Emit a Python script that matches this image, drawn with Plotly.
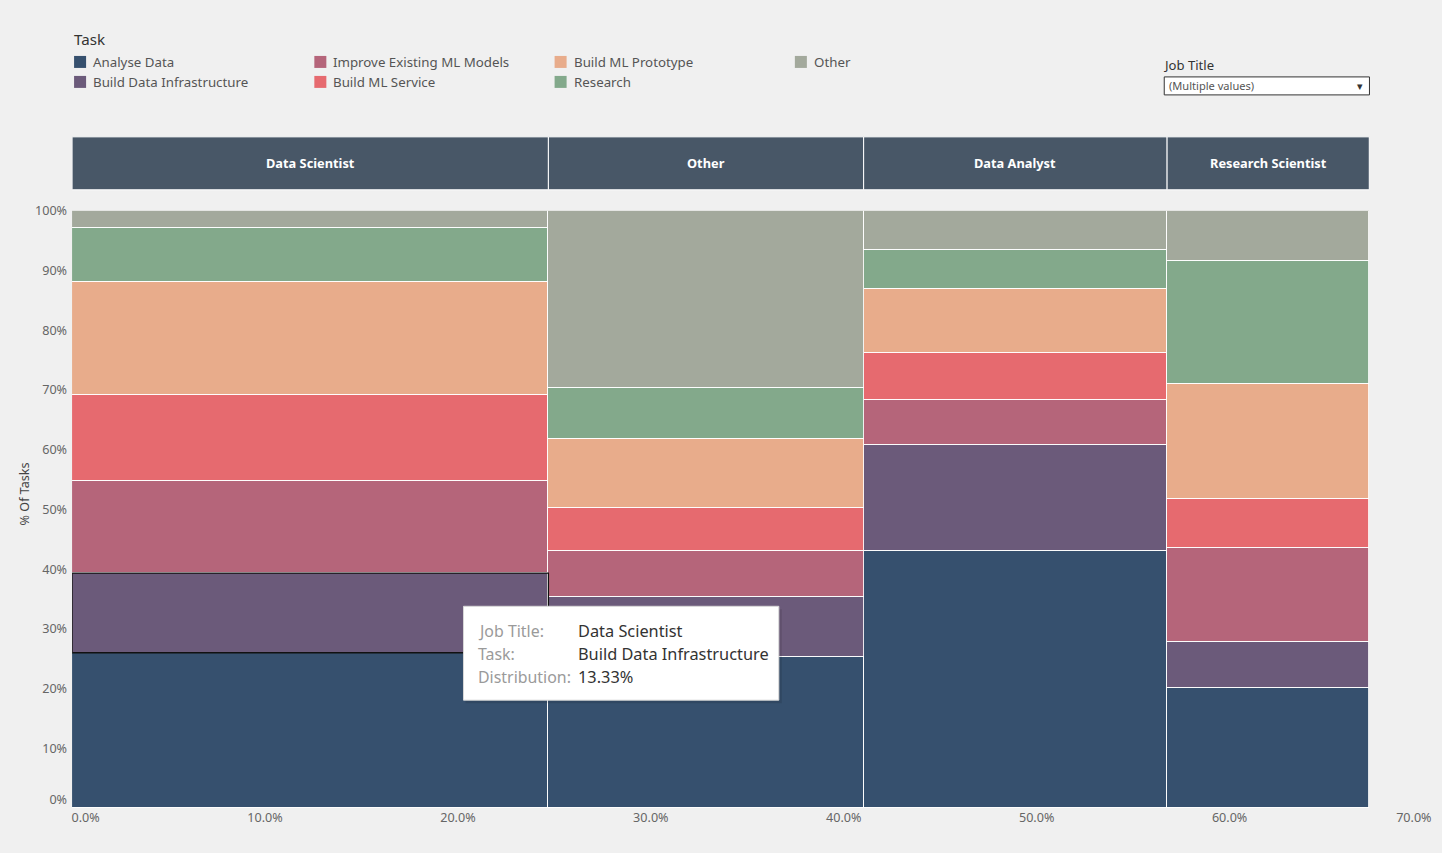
import plotly.graph_objects as go
import numpy as np

# ---------------- data ----------------
job_titles = ["Data Scientist", "Other", "Data Analyst", "Research Scientist"]
job_widths = [24.69, 16.34, 15.73, 10.48]   # % share on x axis

tasks = ["Analyse Data", "Build Data Infrastructure", "Improve Existing ML Models",
         "Build ML Service", "Build ML Prototype", "Research", "Other"]

analyse_data = [26.0, 25.3, 43.0, 20.1]
build_data_infra = [13.33, 10.0, 17.9, 7.8]
improve_ml = [15.5, 7.7, 7.5, 15.7]
build_ml_service = [14.4, 7.2, 7.9, 8.2]
build_ml_prototype = [18.9, 11.7, 10.7, 19.2]
research = [9.1, 8.5, 6.5, 20.6]
other_task = [2.77, 29.6, 6.5, 8.4]

task_values = [analyse_data, build_data_infra, improve_ml, build_ml_service,
               build_ml_prototype, research, other_task]

colors = ["#36506e", "#6b5a7a", "#b5657a", "#e66a6f", "#e8ac8b", "#83a98b", "#a3a99c"]

x_ticks = [0, 10, 20, 30, 40, 50, 60, 70]
y_ticks = [0, 10, 20, 30, 40, 50, 60, 70, 80, 90, 100]

# ---------------- geometry helpers ----------------
W, H = 1442, 853
SX, SY, OY = 0.992, 845 / 853, 8.0   # compensation for the capture transform
FONT = "Noto Sans"


def X(r):
    return r / SX


def Y(r):
    return (r - OY) / SY


def px(r):
    return X(r) / W


def py(r):
    return 1 - Y(r) / H


def fs(s):
    return s / SX


lefts = np.concatenate([[0], np.cumsum(job_widths)[:-1]])
centers = lefts + np.array(job_widths) / 2

fig = go.Figure()
for t, vals, c in zip(tasks, task_values, colors):
    fig.add_trace(go.Bar(
        x=centers, y=vals, width=job_widths, name=t,
        marker=dict(color=c, line=dict(color="rgba(255,255,255,0.85)", width=1)),
        hoverinfo="skip", showlegend=False,
    ))

x_dom = [px(71), px(1420)]
y_dom = [py(808), py(210)]

shapes = []
annotations = []

# header band per job title
for jt, l, w, cx in zip(job_titles, lefts, job_widths, centers):
    shapes.append(dict(type="rect", xref="x", yref="paper", x0=l, x1=l + w,
                       y0=py(189), y1=py(136), fillcolor="#485767",
                       line=dict(color="#ffffff", width=1), layer="above"))
    annotations.append(dict(xref="x", yref="paper", x=cx, y=py(162.5), text="<b>" + jt + "</b>",
                            showarrow=False, font=dict(family=FONT, size=fs(12.7), color="#ffffff"),
                            xanchor="center", yanchor="middle"))

# selected segment outline (Data Scientist / Build Data Infrastructure)
sel_y0 = analyse_data[0]
sel_y1 = analyse_data[0] + build_data_infra[0]
shapes.append(dict(type="rect", xref="x", yref="y", x0=lefts[0], x1=lefts[0] + job_widths[0],
                   y0=sel_y0, y1=sel_y1, line=dict(color="#111111", width=1.3), layer="above"))

# legend
annotations.append(dict(xref="paper", yref="paper", x=px(71), y=py(38), text="Task", showarrow=False,
                        xanchor="left", yanchor="middle", font=dict(family=FONT, size=fs(15), color="#333333")))
leg_pos = [(72, 61), (72, 81), (312, 61), (312, 81), (552, 61), (552, 81), (792, 61)]
for t, c, (lx, ly) in zip(tasks, colors, leg_pos):
    shapes.append(dict(type="rect", xref="paper", yref="paper", x0=px(lx + 1), x1=px(lx + 13),
                       y0=py(ly + 6), y1=py(ly - 6), fillcolor=c, line=dict(width=0)))
    annotations.append(dict(xref="paper", yref="paper", x=px(lx + 18), y=py(ly), text=t, showarrow=False,
                            xanchor="left", yanchor="middle",
                            font=dict(family=FONT, size=fs(13.2), color="#555555")))

# filter dropdown
annotations.append(dict(xref="paper", yref="paper", x=px(1159), y=py(64), text="Job Title", showarrow=False,
                        xanchor="left", yanchor="middle", font=dict(family=FONT, size=fs(13), color="#333333")))
shapes.append(dict(type="rect", xref="paper", yref="paper", x0=px(1162), x1=px(1367),
                   y0=py(94), y1=py(76), fillcolor="#ffffff", line=dict(color="#333333", width=1)))
annotations.append(dict(xref="paper", yref="paper", x=px(1165), y=py(85), text="(Multiple values)",
                        showarrow=False, xanchor="left", yanchor="middle",
                        font=dict(family=FONT, size=fs(11), color="#555555")))
annotations.append(dict(xref="paper", yref="paper", x=px(1358), y=py(85), text="▾",
                        showarrow=False, xanchor="center", yanchor="middle",
                        font=dict(family=FONT, size=fs(11), color="#333333")))

# y axis title
annotations.append(dict(xref="paper", yref="paper", x=px(23), y=py(494), text="% Of Tasks",
                        showarrow=False, textangle=-90, xanchor="center", yanchor="middle",
                        font=dict(family=FONT, size=fs(12.5), color="#444444")))

# tooltip
shapes.append(dict(type="rect", xref="paper", yref="paper", x0=px(464), x1=px(780),
                   y0=py(703), y1=py(609), fillcolor="rgba(0,0,0,0.10)", line=dict(width=0), layer="above"))
shapes.append(dict(type="rect", xref="paper", yref="paper", x0=px(462), x1=px(777),
                   y0=py(700), y1=py(606), fillcolor="#ffffff", line=dict(color="#d8d8d8", width=1),
                   layer="above"))
tip_rows = [("Job Title:", job_titles[0]), ("Task:", tasks[1]),
            ("Distribution:", f"{build_data_infra[0]:.2f}%")]
for i, (lab, val) in enumerate(tip_rows):
    yy = 631 + i * 23
    annotations.append(dict(xref="paper", yref="paper", x=px(474), y=py(yy), text=lab, showarrow=False,
                            xanchor="left", yanchor="middle",
                            font=dict(family=FONT, size=fs(15.8), color="#9a9a9a")))
    annotations.append(dict(xref="paper", yref="paper", x=px(574), y=py(yy), text=val, showarrow=False,
                            xanchor="left", yanchor="middle",
                            font=dict(family=FONT, size=fs(16.2), color="#333333")))

# edge tick labels are nudged inward like the reference
x_tick_pos = [v + (0.7 if v == x_ticks[0] else (-0.45 if v == x_ticks[-1] else 0)) for v in x_ticks]
y_tick_pos = [v + (1.5 if v == y_ticks[0] else 0) for v in y_ticks]

fig.update_layout(
    width=W, height=H,
    margin=dict(l=0, r=0, t=0, b=0),
    paper_bgcolor="#f0f0f0", plot_bgcolor="#f0f0f0",
    barmode="stack", bargap=0,
    showlegend=False,
    xaxis=dict(domain=x_dom, range=[0, 70], tickvals=x_tick_pos,
               ticktext=[f"{v:.1f}%" for v in x_ticks],
               showgrid=False, zeroline=False, showline=False, ticks="",
               tickfont=dict(family=FONT, size=fs(12.5), color="#666666")),
    yaxis=dict(domain=y_dom, range=[0, 100], tickvals=y_tick_pos,
               ticktext=[f"{v}%" for v in y_ticks], ticklabelstandoff=4,
               showgrid=False, zeroline=False, showline=False, ticks="",
               tickfont=dict(family=FONT, size=fs(12.5), color="#666666")),
    shapes=shapes, annotations=annotations,
    font=dict(family=FONT),
)

post = (
    "document.documentElement.style.margin='0';"
    "document.documentElement.style.overflow='hidden';"
    "document.documentElement.style.background='#f0f0f0';"
    "document.body.style.margin='0';"
    "document.body.style.overflow='hidden';"
)
fig.write_html("out.html", post_script=post)
